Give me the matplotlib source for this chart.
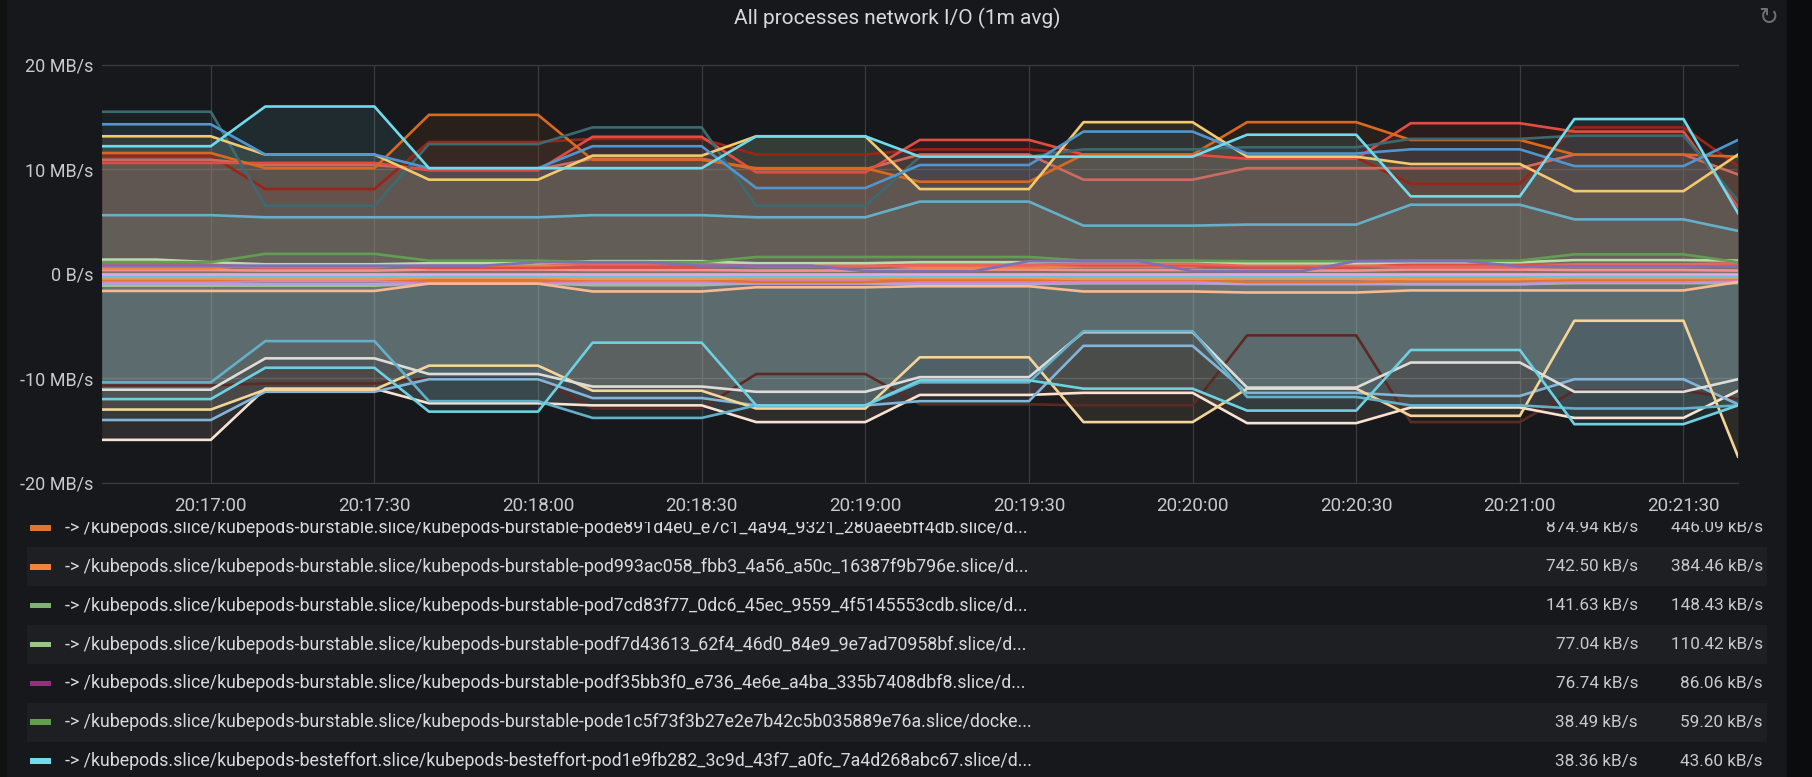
import numpy as np
import pandas as pd
import matplotlib
matplotlib.use("Agg")
import matplotlib.pyplot as plt
import matplotlib.dates as mdates
from matplotlib.ticker import FuncFormatter, MultipleLocator
from matplotlib.patches import Rectangle

plt.rcParams['font.family'] = ['Roboto', 'DejaVu Sans']

# 10 s samples, 20:16:40 .. 20:21:40
times = pd.date_range("2019-06-20 20:16:40", periods=31, freq="10s")

# ---- received (positive), MB/s ----
rx_teal_dark = [15.5, 15.5, 15.5, 6.5, 6.5, 6.5, 12.4, 12.4, 12.4, 14.0, 14.0, 14.0, 6.5, 6.5, 6.5,
                11.2, 11.2, 11.2, 11.9, 11.9, 11.9, 12.1, 12.1, 12.1, 12.9, 12.9, 12.9, 13.2, 13.2, 13.2, 7.0]
rx_blue = [14.3, 14.3, 14.3, 11.4, 11.4, 11.4, 10.1, 10.1, 10.1, 12.2, 12.2, 12.2, 8.2, 8.2, 8.2,
           10.4, 10.4, 10.4, 13.6, 13.6, 13.6, 11.5, 11.5, 11.5, 11.9, 11.9, 11.9, 10.3, 10.3, 10.3, 12.8]
rx_yellow = [13.15, 13.15, 13.15, 11.4, 11.4, 11.4, 9.0, 9.0, 9.0, 11.3, 11.3, 11.3, 13.15, 13.15, 13.15,
             8.1, 8.1, 8.1, 14.5, 14.5, 14.5, 11.2, 11.2, 11.2, 10.5, 10.5, 10.5, 7.9, 7.9, 7.9, 11.4]
rx_cyan = [12.2, 12.2, 12.2, 16.0, 16.0, 16.0, 10.1, 10.1, 10.1, 10.1, 10.1, 10.1, 13.15, 13.15, 13.15,
           11.2, 11.2, 11.2, 11.2, 11.2, 11.2, 13.3, 13.3, 13.3, 7.4, 7.4, 7.4, 14.8, 14.8, 14.8, 5.8]
rx_orange = [11.55, 11.55, 11.55, 10.1, 10.1, 10.1, 15.2, 15.2, 15.2, 10.9, 10.9, 10.9, 10.1, 10.1, 10.1,
             8.8, 8.8, 8.8, 11.4, 11.4, 11.4, 14.5, 14.5, 14.5, 12.8, 12.8, 12.8, 11.4, 11.4, 11.4, 11.2]
rx_red = [10.6, 10.6, 10.6, 10.6, 10.6, 10.6, 9.9, 9.9, 9.9, 13.1, 13.1, 13.1, 9.7, 9.7, 9.7,
          12.8, 12.8, 12.8, 11.4, 11.4, 11.4, 11.0, 11.0, 11.0, 14.4, 14.4, 14.4, 13.6, 13.6, 13.6, 6.4]
rx_salmon = [10.9, 10.9, 10.9, 10.4, 10.4, 10.4, 10.0, 10.0, 10.0, 11.0, 11.0, 11.0, 10.0, 10.0, 10.0,
             11.4, 11.4, 11.4, 9.0, 9.0, 9.0, 10.1, 10.1, 10.1, 10.1, 10.1, 10.1, 11.4, 11.4, 11.4, 9.5]
rx_darkred = [11.3, 11.3, 11.3, 8.1, 8.1, 8.1, 12.6, 12.6, 12.6, 12.9, 12.9, 12.9, 11.4, 11.4, 11.4,
              11.9, 11.9, 11.9, 11.4, 11.4, 11.4, 11.1, 11.1, 11.1, 8.6, 8.6, 8.6, 14.0, 14.0, 14.0, 10.3]
rx_teal = [5.6, 5.6, 5.6, 5.4, 5.4, 5.4, 5.4, 5.4, 5.4, 5.6, 5.6, 5.6, 5.4, 5.4, 5.4,
           6.9, 6.9, 6.9, 4.6, 4.6, 4.6, 4.7, 4.7, 4.7, 6.6, 6.6, 6.6, 5.2, 5.2, 5.2, 4.1]

# ---- transmitted (negative), MB/s ----
tx_blueteal = [-10.4, -10.4, -10.4, -6.45, -6.45, -6.45, -12.2, -12.2, -12.2, -13.8, -13.8, -13.8, -12.6, -12.6, -12.6,
               -10.4, -10.4, -10.4, -5.5, -5.5, -5.5, -11.8, -11.8, -11.8, -12.6, -12.6, -12.6, -12.9, -12.9, -12.9, -12.6]
tx_grey = [-11.1, -11.1, -11.1, -8.1, -8.1, -8.1, -9.6, -9.6, -9.6, -10.8, -10.8, -10.8, -11.3, -11.3, -11.3,
           -9.9, -9.9, -9.9, -5.6, -5.6, -5.6, -10.9, -10.9, -10.9, -8.5, -8.5, -8.5, -11.3, -11.3, -11.3, -10.1]
tx_cyan = [-12.0, -12.0, -12.0, -9.0, -9.0, -9.0, -13.2, -13.2, -13.2, -6.6, -6.6, -6.6, -12.6, -12.6, -12.6,
           -10.2, -10.2, -10.2, -11.0, -11.0, -11.0, -13.1, -13.1, -13.1, -7.3, -7.3, -7.3, -14.4, -14.4, -14.4, -12.6]
tx_yellow = [-13.0, -13.0, -13.0, -11.1, -11.1, -11.1, -8.8, -8.8, -8.8, -11.2, -11.2, -11.2, -12.9, -12.9, -12.9,
             -8.0, -8.0, -8.0, -14.2, -14.2, -14.2, -11.0, -11.0, -11.0, -13.6, -13.6, -13.6, -4.5, -4.5, -4.5, -17.5]
tx_lightblue = [-14.0, -14.0, -14.0, -11.3, -11.3, -11.3, -10.1, -10.1, -10.1, -11.9, -11.9, -11.9, -12.6, -12.6, -12.6,
                -12.2, -12.2, -12.2, -6.9, -6.9, -6.9, -11.4, -11.4, -11.4, -11.7, -11.7, -11.7, -10.1, -10.1, -10.1, -12.5]
tx_peach = [-15.9, -15.9, -15.9, -11.0, -11.0, -11.0, -12.4, -12.4, -12.4, -12.6, -12.6, -12.6, -14.2, -14.2, -14.2,
            -11.6, -11.6, -11.6, -11.4, -11.4, -11.4, -14.3, -14.3, -14.3, -12.8, -12.8, -12.8, -13.8, -13.8, -13.8, -11.2]
tx_darkred = [-10.7, -10.7, -10.7, -10.5, -10.5, -10.5, -10.0, -10.0, -10.0, -12.9, -12.9, -12.9, -9.6, -9.6, -9.6,
              -12.5, -12.5, -12.5, -12.6, -12.6, -12.6, -5.9, -5.9, -5.9, -14.2, -14.2, -14.2, -11.2, -11.2, -11.2, -12.0]

# ---- small processes around 0, MB/s ----
sm_green = [1.1, 1.1, 1.1, 1.9, 1.9, 1.9, 1.25, 1.25, 1.25, 1.1, 1.1, 1.1, 1.6, 1.6, 1.6,
            1.6, 1.6, 1.6, 1.25, 1.25, 1.25, 1.2, 1.2, 1.2, 1.25, 1.25, 1.25, 1.85, 1.85, 1.85, 1.1]
sm_purple = [0.77, 0.77, 0.77, 0.77, 0.77, 0.77, 0.77, 0.77, 1.1, 1.1, 1.1, 0.77, 0.77, 0.77, 0.25,
             0.25, 0.25, 1.2, 1.2, 1.2, 0.25, 0.25, 0.25, 1.2, 1.2, 1.2, 0.7, 0.7, 0.7, 0.7, 0.7]
sm_peach = [-1.65, -1.65, -1.65, -1.65, -1.65, -1.65, -0.95, -0.95, -0.95, -1.7, -1.7, -1.7, -1.3, -1.3, -1.3,
            -1.2, -1.2, -1.2, -1.7, -1.7, -1.7, -1.8, -1.8, -1.8, -1.6, -1.6, -1.6, -1.6, -1.6, -1.6, -0.8]
sm_lightgreen = [1.35, 1.35, 1.1, 0.9, 0.9, 0.9, 1.0, 1.0, 1.0, 1.2, 1.2, 1.2, 1.0, 1.0, 1.0,
                 1.1, 1.1, 1.1, 1.2, 1.2, 1.2, 1.0, 1.0, 1.0, 1.1, 1.1, 1.1, 1.3, 1.3, 1.3, 1.25]
sm_salmon = [0.7, 0.7, 0.7, 0.6, 0.6, 0.6, 1.0, 1.0, 1.0, 0.9, 0.9, 0.9, 0.7, 0.7, 0.7,
             0.8, 0.8, 0.8, 0.95, 0.95, 0.95, 0.8, 0.8, 0.8, 0.6, 0.6, 0.6, 0.9, 0.9, 0.9, 1.0]
sm_orange = [0.5, 0.5, 0.5, 0.9, 0.9, 0.9, 0.7, 0.7, 0.7, 1.0, 1.0, 1.0, 0.9, 0.9, 0.9,
             0.6, 0.6, 0.6, 0.7, 0.7, 0.7, 1.0, 1.0, 1.0, 0.8, 0.8, 0.8, 0.7, 0.7, 0.7, 0.8]
sm_red = [0.9, 0.9, 0.9, 0.8, 0.8, 0.8, 0.55, 0.55, 0.55, 0.6, 0.6, 0.6, 0.9, 0.9, 0.9,
          0.9, 0.9, 0.9, 0.8, 0.8, 0.8, 0.6, 0.6, 0.6, 0.9, 0.9, 0.9, 0.9, 0.9, 0.9, 0.9]
sm_pinksalmon = [0.35, 0.35, 0.35, 0.3, 0.3, 0.3, 0.4, 0.4, 0.4, 0.35, 0.35, 0.35, 0.3, 0.3, 0.3,
                 0.4, 0.4, 0.4, 0.35, 0.35, 0.35, 0.3, 0.3, 0.3, 0.4, 0.4, 0.4, 0.35, 0.35, 0.35, 0.3]
sm_lilac = [0.0, 0.0, 0.0, 0.0, 0.0, 0.0, 0.0, 0.0, 0.0, 0.0, 0.0, 0.0, 0.0, 0.0, 0.0,
            0.0, 0.0, 0.0, 0.0, 0.0, 0.0, 0.0, 0.0, 0.0, 0.0, 0.0, 0.0, 0.0, 0.0, 0.0, 0.0]
sm_paleteal = [-0.3, -0.3, -0.3, -0.3, -0.3, -0.3, -0.25, -0.25, -0.25, -0.3, -0.3, -0.3, -0.3, -0.3, -0.3,
               -0.25, -0.25, -0.25, -0.3, -0.3, -0.3, -0.3, -0.3, -0.3, -0.25, -0.25, -0.25, -0.3, -0.3, -0.3, -0.3]
sm_orange2 = [-0.6, -0.6, -0.6, -0.5, -0.5, -0.5, -0.7, -0.7, -0.7, -0.6, -0.6, -0.6, -0.8, -0.8, -0.8,
              -0.6, -0.6, -0.6, -0.55, -0.55, -0.55, -0.8, -0.8, -0.8, -0.7, -0.7, -0.7, -0.6, -0.6, -0.6, -0.5]
sm_pink = [-0.75, -0.75, -0.75, -0.7, -0.7, -0.7, -0.8, -0.8, -0.8, -0.75, -0.75, -0.75, -0.7, -0.7, -0.7,
           -0.75, -0.75, -0.75, -0.8, -0.8, -0.8, -0.5, -0.5, -0.5, -0.7, -0.7, -0.7, -0.75, -0.75, -0.75, -0.6]
sm_lavender = [-0.95, -0.95, -0.95, -1.0, -1.0, -1.0, -0.9, -0.9, -0.9, -0.9, -0.9, -0.9, -0.95, -0.95, -0.95,
               -0.95, -0.95, -0.95, -0.9, -0.9, -0.9, -1.0, -1.0, -1.0, -1.0, -1.0, -1.0, -0.8, -0.8, -0.8, -0.8]
sm_lightgreen2 = [-1.15, -1.15, -1.15, -1.15, -1.15, -1.15, -0.9, -0.9, -0.9, -1.1, -1.1, -1.1, -0.9, -0.9, -0.9,
                  -1.0, -1.0, -1.0, -0.9, -0.9, -0.9, -0.9, -0.9, -0.9, -1.0, -1.0, -1.0, -0.9, -0.9, -0.9, -0.9]
sm_orange3 = [-0.45, -0.45, -0.45, -0.5, -0.5, -0.5, -0.4, -0.4, -0.4, -0.5, -0.5, -0.5, -0.45, -0.45, -0.45,
              -0.4, -0.4, -0.4, -0.5, -0.5, -0.5, -0.45, -0.45, -0.45, -0.5, -0.5, -0.5, -0.4, -0.4, -0.4, -0.4]

small_series = [(sm_lightgreen2, "#9AC48A"), (sm_lavender, "#AEA2E0"), (sm_pink, "#D683CE"),
                (sm_orange2, "#E0752D"), (sm_orange3, "#F9934E"), (sm_paleteal, "#65C5DB"),
                (sm_lilac, "#E5A8E2"), (sm_pinksalmon, "#F29191"), (sm_orange, "#EF843C"),
                (sm_red, "#E24D42"), (sm_salmon, "#EA6460"), (sm_lightgreen, "#B7DBAB"),
                (sm_green, "#629E51"), (sm_purple, "#806EB7"), (sm_peach, "#F9BA8F")]
tx_series = [(tx_darkred, "#5A2A25"), (tx_peach, "#F9E2D2"), (tx_lightblue, "#82B5D8"),
             (tx_yellow, "#F4D598"), (tx_grey, "#DEDCD8"), (tx_blueteal, "#64B0C8"),
             (tx_cyan, "#6ED0E0")]
rx_series = [(rx_teal, "#64B0C8"), (rx_darkred, "#9A2418"), (rx_salmon, "#CC6B60"),
             (rx_red, "#E24D42"), (rx_orange, "#D9691F"), (rx_teal_dark, "#3B6A70"),
             (rx_yellow, "#F2C96D"), (rx_blue, "#5195CE"), (rx_cyan, "#70DBED")]

# legend table (scrolled)
legend_names = [
    "-> /kubepods.slice/kubepods-burstable.slice/kubepods-burstable-pode891d4e0_e7c1_4a94_9321_280aeebff4db.slice/d...",
    "-> /kubepods.slice/kubepods-burstable.slice/kubepods-burstable-pod993ac058_fbb3_4a56_a50c_16387f9b796e.slice/d...",
    "-> /kubepods.slice/kubepods-burstable.slice/kubepods-burstable-pod7cd83f77_0dc6_45ec_9559_4f5145553cdb.slice/d...",
    "-> /kubepods.slice/kubepods-burstable.slice/kubepods-burstable-podf7d43613_62f4_46d0_84e9_9e7ad70958bf.slice/d...",
    "-> /kubepods.slice/kubepods-burstable.slice/kubepods-burstable-podf35bb3f0_e736_4e6e_a4ba_335b7408dbf8.slice/d...",
    "-> /kubepods.slice/kubepods-burstable.slice/kubepods-burstable-pode1c5f73f3b27e2e7b42c5b035889e76a.slice/docke...",
    "-> /kubepods.slice/kubepods-besteffort.slice/kubepods-besteffort-pod1e9fb282_3c9d_43f7_a0fc_7a4d268abc67.slice/d...",
]
legend_avg = ["874.94 kB/s", "742.50 kB/s", "141.63 kB/s", "77.04 kB/s", "76.74 kB/s", "38.49 kB/s", "38.36 kB/s"]
legend_cur = ["446.09 kB/s", "384.46 kB/s", "148.43 kB/s", "110.42 kB/s", "86.06 kB/s", "59.20 kB/s", "43.60 kB/s"]
legend_colors = ["#E0752D", "#EF843C", "#7EB26D", "#9AC48A", "#962D82", "#629E51", "#70DBED"]

W, H = 1812, 777
PANEL = "#17181b"
ROW_ALT = "#1e1f23"
GRID = "#3a3b3e"
TXT = "#c8c9cb"

fig = plt.figure(figsize=(W / 100, H / 100), dpi=100, facecolor=PANEL)
fig.patches.append(Rectangle((1787 / W, 0), 1, 1, transform=fig.transFigure,
                             color="#0b0c0e", zorder=0))
fig.patches.append(Rectangle((0, 0), 6 / W, 1, transform=fig.transFigure,
                             color="#101113", zorder=0))

ax = fig.add_axes([101.7 / W, 1 - 482.7 / H, (1738 - 101.7) / W, (482.7 - 64.7) / H])
ax.set_facecolor(PANEL)

for group in (small_series, tx_series, rx_series):
    for vals, col in group:
        ax.fill_between(times, 0, vals, color=col, alpha=0.1, lw=0)
for group in (small_series, tx_series, rx_series):
    for vals, col in group:
        ax.plot(times, vals, color=col, lw=1.9)

ax.set_xlim(times[0], times[-1])
ax.set_ylim(-20, 20)
ax.yaxis.set_major_locator(MultipleLocator(10))
ax.yaxis.set_major_formatter(FuncFormatter(lambda v, p: "0 B/s" if v == 0 else f"{v:.0f} MB/s"))
ax.xaxis.set_major_locator(mdates.SecondLocator(bysecond=[0, 30]))
ax.xaxis.set_major_formatter(mdates.DateFormatter("%H:%M:%S"))
ax.grid(True, color=GRID, lw=0.9)
ax.set_axisbelow(True)
for side in ("left", "right"):
    ax.spines[side].set_visible(False)
for side in ("top", "bottom"):
    ax.spines[side].set_color(GRID)
    ax.spines[side].set_linewidth(0.9)
ax.tick_params(axis="both", length=0, colors=TXT)
ax.tick_params(axis="y", pad=6, labelsize=13)
ax.tick_params(axis="x", pad=10, labelsize=13.5)

fig.text(897 / W, 1 - 18 / H, "All processes network I/O (1m avg)", ha="center", va="center",
         color="#d8d9da", fontsize=15)
fig.text(1768 / W, 1 - 17 / H, "\u21bb", ha="center", va="center", color="#6f7074",
         fontsize=17, family=["DejaVu Sans"])

# legend table, clipped under the time axis
lax = fig.add_axes([0, 0, 1, (H - 522) / H])
lax.set_xlim(0, W)
lax.set_ylim(H, 522)
lax.axis("off")
row_top, row_h = 508.5, 38.85
for k, (name, avg, cur, col) in enumerate(zip(legend_names, legend_avg, legend_cur, legend_colors)):
    top = row_top + k * row_h
    mid = top + row_h / 2
    if k % 2 == 1:
        lax.add_patch(Rectangle((27, top), 1740, row_h, color=ROW_ALT, lw=0))
    lax.add_patch(Rectangle((30, mid - 2.8), 21, 5.6, color=col, lw=0))
    lax.text(65, mid, name, ha="left", va="center", color="#d8d9da", fontsize=12.8, clip_on=True)
    lax.text(1638, mid, avg, ha="right", va="center", color=TXT, fontsize=12.3, clip_on=True)
    lax.text(1763, mid, cur, ha="right", va="center", color=TXT, fontsize=12.3, clip_on=True)

fig.savefig("out.png", dpi=100, facecolor=fig.get_facecolor())
